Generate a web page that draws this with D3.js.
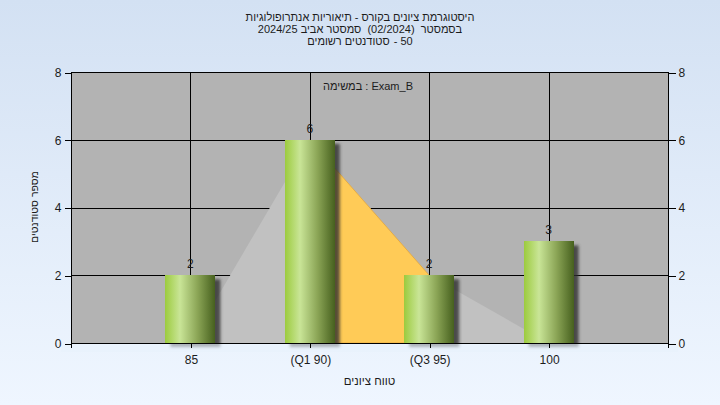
<!DOCTYPE html>
<html>
<head>
<meta charset="utf-8">
<script src="https://cdn.jsdelivr.net/npm/d3@7"></script>
<style>
  html, body { margin: 0; padding: 0; }
  text { white-space: pre; }
</style>
</head>
<body>
<div id="chart"></div>
<script>
/* DATA *********************************************************************/

var categories = ["85", "(Q1 90)", "(Q3 95)", "100"];
var studentCounts = [2, 6, 2, 3];
var spreadArea = [0, 6, 2, 0];          // grey area behind the bars
var quartileArea = [null, 6, 2, null];  // orange area between Q1 and Q3
var yTicks = [0, 2, 4, 6, 8];

var titleLines = [
    "היסטוגרמת ציונים בקורס - תיאוריות אנתרופולוגיות",
    "בסמסטר  (02/2024)  סמסטר אביב 2024/25"
];
var enrolledLabel = "סטודנטים רשומים";
var enrolledCount = "- 50";
var taskLabel = "במשימה : Exam_B";
var xTitle = "טווח ציונים";
var yTitle = "מספר סטודנטים";

/* SETTINGS *****************************************************************/

var width = 720, height = 405;
var plot = { left: 71, right: 668, top: 72, bottom: 343 };
var fontFamily = "'Liberation Sans', Arial, 'DejaVu Sans', sans-serif";
var barWidth = 50;
var textColor = "#1c1c1c";

/* SVG **********************************************************************/

var svg = d3.select("#chart").append("svg")
    .attr("width", width)
    .attr("height", height)
    .attr("font-family", fontFamily);

var defs = svg.append("defs");

var bg = defs.append("linearGradient").attr("id", "bg")
    .attr("x1", 0).attr("y1", 0).attr("x2", 0).attr("y2", 1);
bg.append("stop").attr("offset", 0).attr("stop-color", "#d3e1f3");
bg.append("stop").attr("offset", 1).attr("stop-color", "#eff6ff");

var barGrad = defs.append("linearGradient").attr("id", "barGrad")
    .attr("x1", 0).attr("y1", 0).attr("x2", 1).attr("y2", 0);
barGrad.append("stop").attr("offset", 0).attr("stop-color", "#9ccb3e");
barGrad.append("stop").attr("offset", 0.3).attr("stop-color", "#c9e597");
barGrad.append("stop").attr("offset", 0.65).attr("stop-color", "#8ba556");
barGrad.append("stop").attr("offset", 1).attr("stop-color", "#46601e");

var shadow = defs.append("filter").attr("id", "shadow")
    .attr("x", "-30%").attr("y", "-30%").attr("width", "160%").attr("height", "160%");
shadow.append("feGaussianBlur").attr("stdDeviation", 1.6);

svg.append("rect").attr("width", width).attr("height", height).attr("fill", "url(#bg)");

// scales
var x = d3.scalePoint()
    .domain(categories)
    .range([plot.left, plot.right])
    .padding(1);

var y = d3.scaleLinear()
    .domain([0, 8])
    .range([plot.bottom, plot.top]);

// plot background
svg.append("rect")
    .attr("x", plot.left).attr("y", plot.top)
    .attr("width", plot.right - plot.left)
    .attr("height", plot.bottom - plot.top)
    .attr("fill", "#b3b3b3");

// grid lines
var grid = svg.append("g").attr("stroke", "#000").attr("stroke-width", 1).attr("shape-rendering", "crispEdges");
grid.selectAll(".hg").data(yTicks.filter(function(d) { return d > 0; })).enter()
    .append("line")
    .attr("x1", plot.left).attr("x2", plot.right)
    .attr("y1", function(d) { return Math.round(y(d)) + 0.5; })
    .attr("y2", function(d) { return Math.round(y(d)) + 0.5; });
grid.selectAll(".vg").data(categories).enter()
    .append("line")
    .attr("y1", plot.top).attr("y2", plot.bottom)
    .attr("x1", function(d) { return Math.round(x(d)) + 0.5; })
    .attr("x2", function(d) { return Math.round(x(d)) + 0.5; });

// areas
var area = d3.area()
    .defined(function(d) { return d.v !== null; })
    .x(function(d) { return x(d.c); })
    .y0(y(0))
    .y1(function(d) { return y(d.v); });

svg.append("path")
    .datum(categories.map(function(c, i) { return { c: c, v: spreadArea[i] }; }))
    .attr("d", area)
    .attr("fill", "#c1c1c1");

svg.append("path")
    .datum(categories.map(function(c, i) { return { c: c, v: quartileArea[i] }; }))
    .attr("d", area)
    .attr("fill", "#ffcb57")
    .attr("stroke", "#e3a53a")
    .attr("stroke-width", 0.8);

// bar shadows
svg.append("g").selectAll("rect").data(studentCounts).enter()
    .append("rect")
    .attr("x", function(d, i) { return x(categories[i]) - barWidth / 2 + 5; })
    .attr("y", function(d) { return y(d) + 4; })
    .attr("width", barWidth)
    .attr("height", function(d) { return y(0) - y(d); })
    .attr("fill", "#2e2e2e")
    .attr("opacity", 0.8)
    .attr("filter", "url(#shadow)");

// soften shadow spill below the axis
svg.append("rect")
    .attr("x", plot.left - 10).attr("y", plot.bottom + 1)
    .attr("width", plot.right - plot.left + 20).attr("height", 8)
    .attr("fill", "#e8f1fc").attr("opacity", 0.6);

// bars
svg.append("g").selectAll("rect").data(studentCounts).enter()
    .append("rect")
    .attr("x", function(d, i) { return Math.round(x(categories[i]) - barWidth / 2); })
    .attr("y", function(d) { return Math.round(y(d)); })
    .attr("width", barWidth)
    .attr("height", function(d) { return Math.round(y(0)) - Math.round(y(d)); })
    .attr("fill", "url(#barGrad)");

// value labels
svg.append("g").selectAll("text").data(studentCounts).enter()
    .append("text")
    .attr("x", function(d, i) { return x(categories[i]); })
    .attr("y", function(d) { return y(d) - 7; })
    .attr("text-anchor", "middle")
    .attr("font-size", 12)
    .attr("fill", textColor)
    .text(function(d) { return d; });

// plot frame (left, right, bottom)
var frame = svg.append("g").attr("stroke", "#000").attr("shape-rendering", "crispEdges");
frame.append("line").attr("x1", plot.left + 0.5).attr("x2", plot.left + 0.5).attr("y1", plot.top).attr("y2", plot.bottom + 5);
frame.append("line").attr("x1", plot.right + 0.5).attr("x2", plot.right + 0.5).attr("y1", plot.top).attr("y2", plot.bottom + 5);
frame.append("line").attr("x1", plot.left).attr("x2", plot.right).attr("y1", plot.bottom + 0.5).attr("y2", plot.bottom + 0.5);

/* AXES *********************************************************************/

var yAxisLeft = d3.axisLeft(y).tickValues(yTicks).tickSize(7).tickPadding(3);
var yAxisRight = d3.axisRight(y).tickValues(yTicks).tickSize(7).tickPadding(3);
var xAxis = d3.axisBottom(x).tickSize(4).tickPadding(8);

function styleAxis(g) {
    g.select(".domain").remove();
    g.selectAll("line").attr("stroke", "#000").attr("shape-rendering", "crispEdges");
    g.selectAll("text").attr("font-size", 12).attr("font-family", fontFamily).attr("fill", textColor);
}

svg.append("g").attr("transform", "translate(" + (plot.left + 0.5) + ",0.5)").call(yAxisLeft).call(styleAxis);
svg.append("g").attr("transform", "translate(" + (plot.right + 0.5) + ",0.5)").call(yAxisRight).call(styleAxis);
svg.append("g").attr("transform", "translate(0.5," + (plot.bottom + 0.5) + ")").call(xAxis).call(styleAxis);

/* TEXTS ********************************************************************/

svg.append("g").selectAll("text").data(titleLines).enter()
    .append("text")
    .attr("x", 360)
    .attr("y", function(d, i) { return 21 + i * 12; })
    .attr("text-anchor", "middle")
    .attr("font-size", 11)
    .attr("fill", textColor)
    .text(function(d) { return d; });

// third title line: hebrew words on the left, count on the right
var line3 = svg.append("g").attr("font-size", 11).attr("fill", textColor);
var l3a = line3.append("text").attr("y", 45).text(enrolledLabel);
var l3b = line3.append("text").attr("y", 45).text(enrolledCount);
var wa = l3a.node().getComputedTextLength();
var wb = l3b.node().getComputedTextLength();
var gap = 4;
var startX = 360 - (wa + gap + wb) / 2;
l3a.attr("x", startX);
l3b.attr("x", startX + wa + gap);

svg.append("text")
    .attr("x", 368).attr("y", 90)
    .attr("text-anchor", "middle")
    .attr("font-size", 11)
    .attr("fill", textColor)
    .text(taskLabel);

svg.append("text")
    .attr("x", (plot.left + plot.right) / 2).attr("y", 385)
    .attr("text-anchor", "middle")
    .attr("font-size", 11.5)
    .attr("fill", textColor)
    .text(xTitle);

svg.append("text")
    .attr("transform", "translate(38,207) rotate(-90)")
    .attr("text-anchor", "middle")
    .attr("font-size", 10.5)
    .attr("fill", textColor)
    .text(yTitle);
</script>
</body>
</html>
